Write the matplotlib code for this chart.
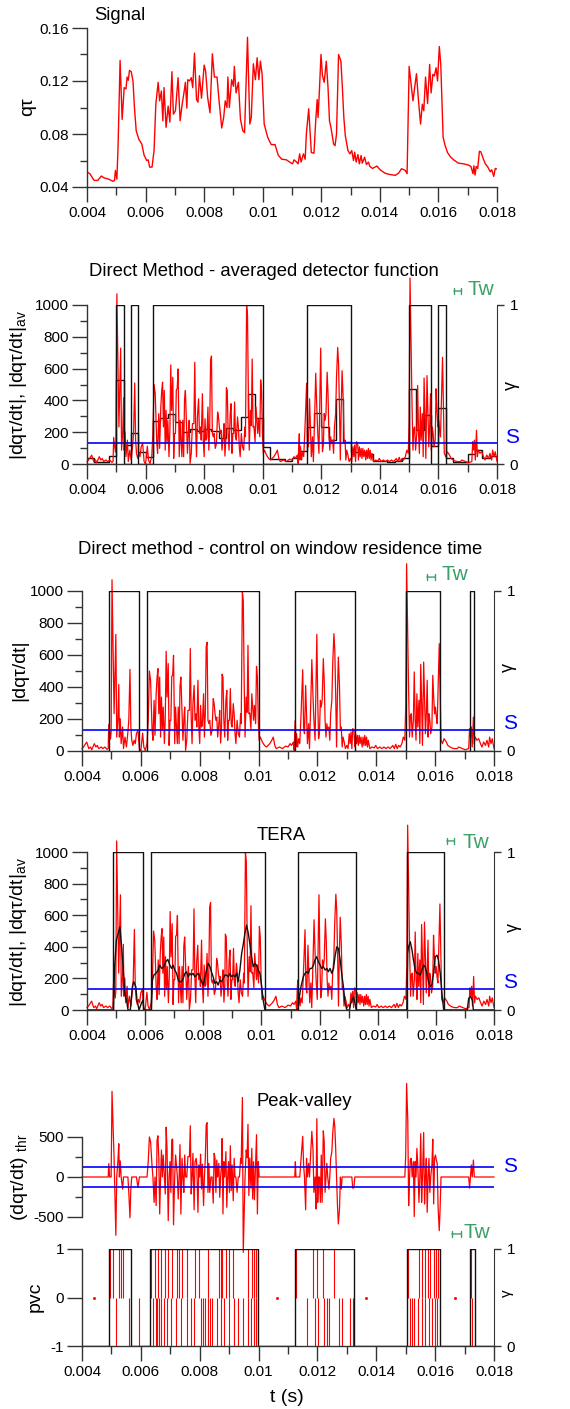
import numpy as np
import matplotlib.pyplot as plt
from matplotlib.ticker import MultipleLocator, FixedLocator

plt.rcParams['font.family'] = ['Liberation Sans', 'DejaVu Sans']

# ---------------- data ----------------
sig_t = [0.00400, 0.00410, 0.00424, 0.00437, 0.00449, 0.00457, 0.00473, 0.00489, 0.00494, 0.00497,
         0.00502, 0.00506, 0.00513, 0.00520, 0.00527, 0.00533, 0.00537, 0.00541, 0.00545, 0.00551,
         0.00557, 0.00562, 0.00568, 0.00577, 0.00587, 0.00595, 0.00604, 0.00609, 0.00614, 0.00622,
         0.00629, 0.00635, 0.00643, 0.00648, 0.00654, 0.00659, 0.00663, 0.00670, 0.00677, 0.00683,
         0.00690, 0.00695, 0.00702, 0.00711, 0.00718, 0.00725, 0.00731, 0.00736, 0.00741, 0.00744,
         0.00750, 0.00756, 0.00761, 0.00767, 0.00774, 0.00779, 0.00784, 0.00791, 0.00800, 0.00805,
         0.00812, 0.00820, 0.00828, 0.00835, 0.00844, 0.00851, 0.00860, 0.00867, 0.00872, 0.00878,
         0.00881, 0.00886, 0.00894, 0.00900, 0.00903, 0.00909, 0.00917, 0.00924, 0.00932, 0.00938,
         0.00948, 0.00956, 0.00961, 0.00968, 0.00975, 0.00981, 0.00987, 0.00992, 0.00998, 0.01005,
         0.01017, 0.01029, 0.01042, 0.01053, 0.01065, 0.01081, 0.01092, 0.01102, 0.01107, 0.01116,
         0.01121, 0.01126, 0.01131, 0.01139, 0.01145, 0.01149, 0.01157, 0.01162, 0.01166, 0.01175,
         0.01181, 0.01186, 0.01189, 0.01193, 0.01199, 0.01204, 0.01210, 0.01217, 0.01223, 0.01228,
         0.01233, 0.01242, 0.01247, 0.01252, 0.01259, 0.01267, 0.01272, 0.01277, 0.01282, 0.01291,
         0.01298, 0.01304, 0.01310, 0.01314, 0.01319, 0.01325, 0.01330, 0.01336, 0.01340, 0.01348,
         0.01354, 0.01361, 0.01366, 0.01375, 0.01390, 0.01401, 0.01417, 0.01432, 0.01453, 0.01464,
         0.01474, 0.01487, 0.01493, 0.01500, 0.01513, 0.01525, 0.01532, 0.01539, 0.01545, 0.01550,
         0.01556, 0.01563, 0.01570, 0.01575, 0.01581, 0.01586, 0.01592, 0.01597, 0.01603, 0.01608,
         0.01616, 0.01623, 0.01631, 0.01642, 0.01652, 0.01668, 0.01686, 0.01703, 0.01711, 0.01718,
         0.01721, 0.01725, 0.01729, 0.01734, 0.01740, 0.01745, 0.01752, 0.01760, 0.01768, 0.01777,
         0.01782, 0.01789, 0.01794, 0.01800]
sig_q = [0.0513, 0.0500, 0.0450, 0.0450, 0.0483, 0.0470, 0.0460, 0.0443, 0.0450, 0.0525,
         0.0460, 0.0700, 0.1355, 0.0910, 0.1150, 0.1140, 0.1230, 0.1205, 0.1280, 0.1270,
         0.1200, 0.1000, 0.0825, 0.0760, 0.0725, 0.0640, 0.0600, 0.0605, 0.0550, 0.0550,
         0.0675, 0.1025, 0.1190, 0.1050, 0.1125, 0.0900, 0.1150, 0.0850, 0.1010, 0.0890,
         0.1270, 0.0950, 0.0975, 0.1225, 0.0900, 0.1025, 0.1110, 0.1190, 0.0995, 0.1210,
         0.1200, 0.1225, 0.1150, 0.1410, 0.1060, 0.1040, 0.1240, 0.1070, 0.1320, 0.1275,
         0.1075, 0.0960, 0.1405, 0.1230, 0.1230, 0.1050, 0.0845, 0.0930, 0.1050, 0.1000,
         0.1230, 0.1000, 0.1210, 0.1160, 0.1310, 0.1110, 0.1190, 0.0910, 0.0825, 0.0810,
         0.1530, 0.0875, 0.0925, 0.1330, 0.1210, 0.1375, 0.1210, 0.1350, 0.1250, 0.0875,
         0.0775, 0.0720, 0.0720, 0.0640, 0.0610, 0.0605, 0.0588, 0.0575, 0.0605, 0.0588,
         0.0575, 0.0650, 0.0588, 0.0650, 0.0610, 0.0800, 0.0990, 0.0800, 0.0660, 0.0655,
         0.0900, 0.1060, 0.0925, 0.1100, 0.1400, 0.1240, 0.1190, 0.1350, 0.1150, 0.0900,
         0.0850, 0.0725, 0.0712, 0.0800, 0.1400, 0.1350, 0.1150, 0.0925, 0.0788, 0.0675,
         0.0650, 0.0675, 0.0600, 0.0663, 0.0588, 0.0645, 0.0575, 0.0638, 0.0580, 0.0625,
         0.0570, 0.0588, 0.0555, 0.0540, 0.0558, 0.0530, 0.0505, 0.0495, 0.0488, 0.0505,
         0.0538, 0.0525, 0.0500, 0.1310, 0.1050, 0.1255, 0.1050, 0.0875, 0.1025, 0.0975,
         0.1230, 0.1030, 0.1325, 0.1110, 0.1250, 0.1238, 0.1300, 0.1200, 0.1460, 0.1325,
         0.0775, 0.0712, 0.0660, 0.0625, 0.0605, 0.0580, 0.0575, 0.0565, 0.0555, 0.0500,
         0.0560, 0.0490, 0.0555, 0.0540, 0.0670, 0.0665, 0.0620, 0.0575, 0.0553, 0.0515,
         0.0530, 0.0480, 0.0540, 0.0535]

# signed derivative dq/dt
dq_t = [0.00400, 0.00405, 0.00416, 0.00423, 0.00429, 0.00433, 0.00442, 0.00447, 0.00452, 0.00457,
        0.00465, 0.00471, 0.00478, 0.00485, 0.00489, 0.00491, 0.00494, 0.00497, 0.00499, 0.00502,
        0.00509, 0.00515, 0.00518, 0.00522, 0.00525, 0.00527, 0.00530, 0.00533, 0.00538, 0.00541,
        0.00546, 0.00551, 0.00556, 0.00559, 0.00563, 0.00566, 0.00569, 0.00573, 0.00577, 0.00581,
        0.00585, 0.00590, 0.00595, 0.00600, 0.00606, 0.00610, 0.00615, 0.00621, 0.00625, 0.00629,
        0.00633, 0.00638, 0.00641, 0.00645, 0.00648, 0.00652, 0.00655, 0.00658, 0.00661, 0.00664,
        0.00667, 0.00670, 0.00673, 0.00676, 0.00680, 0.00683, 0.00686, 0.00689, 0.00693, 0.00696,
        0.00699, 0.00702, 0.00705, 0.00708, 0.00711, 0.00715, 0.00718, 0.00721, 0.00724, 0.00727,
        0.00730, 0.00733, 0.00736, 0.00740, 0.00743, 0.00746, 0.00749, 0.00752, 0.00756, 0.00760,
        0.00765, 0.00768, 0.00771, 0.00774, 0.00777, 0.00781, 0.00784, 0.00788, 0.00790, 0.00794,
        0.00797, 0.00800, 0.00803, 0.00806, 0.00809, 0.00813, 0.00816, 0.00819, 0.00822, 0.00825,
        0.00828, 0.00831, 0.00834, 0.00838, 0.00842, 0.00846, 0.00849, 0.00852, 0.00855, 0.00858,
        0.00861, 0.00865, 0.00868, 0.00871, 0.00874, 0.00876, 0.00879, 0.00882, 0.00885, 0.00889,
        0.00892, 0.00895, 0.00898, 0.00901, 0.00904, 0.00907, 0.00910, 0.00914, 0.00917, 0.00920,
        0.00923, 0.00927, 0.00931, 0.00935, 0.00939, 0.00941, 0.00945, 0.00948, 0.00951, 0.00954,
        0.00958, 0.00961, 0.00964, 0.00967, 0.00970, 0.00974, 0.00977, 0.00980, 0.00983, 0.00986,
        0.00990, 0.00993, 0.00996, 0.00999, 0.01002, 0.01006, 0.01013, 0.01020, 0.01027, 0.01038,
        0.01045, 0.01050, 0.01055, 0.01060, 0.01071, 0.01081, 0.01092, 0.01100, 0.01107, 0.01112,
        0.01118, 0.01121, 0.01123, 0.01125, 0.01127, 0.01129, 0.01133, 0.01136, 0.01140, 0.01144,
        0.01150, 0.01153, 0.01156, 0.01160, 0.01163, 0.01166, 0.01170, 0.01173, 0.01177, 0.01181,
        0.01185, 0.01188, 0.01192, 0.01195, 0.01198, 0.01201, 0.01204, 0.01207, 0.01210, 0.01213,
        0.01216, 0.01220, 0.01223, 0.01226, 0.01229, 0.01232, 0.01235, 0.01239, 0.01242, 0.01245,
        0.01249, 0.01252, 0.01256, 0.01259, 0.01262, 0.01265, 0.01268, 0.01271, 0.01275, 0.01278,
        0.01281, 0.01284, 0.01287, 0.01291, 0.01295, 0.01300, 0.01304, 0.01308, 0.01311, 0.01314,
        0.01317, 0.01320, 0.01324, 0.01327, 0.01330, 0.01333, 0.01336, 0.01339, 0.01342, 0.01345,
        0.01348, 0.01352, 0.01355, 0.01358, 0.01361, 0.01364, 0.01367, 0.01370, 0.01373, 0.01378,
        0.01385, 0.01393, 0.01398, 0.01404, 0.01412, 0.01419, 0.01426, 0.01433, 0.01440, 0.01447,
        0.01456, 0.01461, 0.01466, 0.01471, 0.01476, 0.01481, 0.01487, 0.01492, 0.01497, 0.01500,
        0.01503, 0.01507, 0.01510, 0.01513, 0.01516, 0.01519, 0.01522, 0.01526, 0.01529, 0.01532,
        0.01535, 0.01538, 0.01541, 0.01545, 0.01548, 0.01551, 0.01554, 0.01557, 0.01561, 0.01564,
        0.01567, 0.01570, 0.01573, 0.01576, 0.01579, 0.01582, 0.01585, 0.01589, 0.01592, 0.01595,
        0.01598, 0.01601, 0.01604, 0.01607, 0.01610, 0.01614, 0.01617, 0.01620, 0.01625, 0.01630,
        0.01638, 0.01643, 0.01654, 0.01664, 0.01675, 0.01680, 0.01702, 0.01714, 0.01717, 0.01720,
        0.01723, 0.01726, 0.01730, 0.01733, 0.01736, 0.01742, 0.01748, 0.01754, 0.01759, 0.01765,
        0.01771, 0.01776, 0.01782, 0.01785, 0.01790, 0.01794, 0.01800]
dq_v = [15, 25, 56, 15, 25, 8, 46, 25, 35, 15,
        25, 15, 25, 10, 15, 167, 119, 75, 119, 1070,
        233, -729, -87, 200, 416, 87, 202, 46, -150, 15,
        87, 25, 119, -192, -510, -150, 67, 35, 67, 46,
        108, -130, 15, 0, 112, 25, 4, 46, 192, 500,
        442, 140, 67, -317, 98, -358, 458, 515, 233, -462,
        87, 337, -129, 275, -46, -213, 623, 337, -546, 35,
        192, -192, 467, 473, -598, 46, 275, 150, 46, -275,
        46, 404, -462, 233, 67, -192, 275, 4, -67, 254,
        254, 640, -212, 46, 296, -410, 192, 233, 150, -442,
        150, 46, 285, -150, 160, -358, 87, 233, 650, 679,
        -192, 171, -192, 98, 129, -327, 296, 233, -192, 212,
        87, 171, -254, 50, 150, 480, -462, 192, 87, 317,
        -379, 67, 192, -192, 390, -171, 150, -296, 233, 108,
        46, -192, 108, 87, 233, 171, 994, -942, -442, 87,
        337, 242, 660, -233, 237, -140, 358, -275, 192, -285,
        171, 529, -462, 192, 67, 87, 56, 35, 25, 46,
        67, 87, 35, 15, 25, 15, 31, 25, 46, 35,
        56, 4, 119, 190, 25, 108, 25, 77, 46, 212,
        508, 150, 108, -410, 233, 46, 171, 15, 275, 571,
        337, -192, 67, -400, 729, -317, 77, 119, -317, 275,
        -317, 577, 442, -192, 87, 171, -129, -150, 67, 233,
        317, 546, 733, 629, 358, 25, -348, -587, -400, 129,
        -150, 25, 87, 56, 15, 35, 15, 108, 46, 119,
        15, -140, -133, 25, 108, 46, 98, 35, 98, 46,
        87, 25, 87, 35, 98, 35, 87, 25, 67, 15,
        25, 19, 35, 15, 25, 15, 25, 15, 25, 15,
        35, 15, 42, 15, 35, 25, 46, 87, 67, 275,
        1170, 710, -358, 87, 223, 233, 87, 192, -494, 192,
        67, 358, 150, -317, 46, 541, -317, 35, 556, -338,
        108, 233, -442, 87, 233, -192, 108, 150, 473, -337,
        233, 275, 212, 171, -379, -671, -379, 67, 46, 77,
        56, 35, 21, 15, 15, 25, 8, 15, -140, 88,
        150, 25, 212, 46, 88, 67, 77, 46, 25, 56,
        35, 67, 25, 87, 46, 77, 15]

S = 130          # threshold
Tw = 0.00025     # window width

# averaged detector function, one value per window of width Tw from t=0.004
av_vals = [35, 12, 12, 50, 530, 120, 195, 75, 45, 270, 290, 315, 265, 200, 220, 205, 220, 210,
           165, 225, 215, 295, 440, 290, 110, 30, 30, 20, 35, 80, 235, 320, 235, 150, 410, 140,
           75, 75, 60, 20, 20, 10, 20, 40, 470, 215, 310, 115, 350, 40, 15, 15, 65, 85, 40, 50]

# TERA averaged curve
tera_t = [0.00400, 0.00491, 0.00495, 0.00501, 0.00507, 0.00513, 0.00518, 0.00524, 0.00530, 0.00536,
          0.00541, 0.00549, 0.00556, 0.00561, 0.00568, 0.00572, 0.00579, 0.00587, 0.00593, 0.00595,
          0.00621, 0.00625, 0.00630, 0.00637, 0.00645, 0.00650, 0.00657, 0.00664, 0.00671, 0.00678,
          0.00685, 0.00691, 0.00696, 0.00702, 0.00708, 0.00714, 0.00719, 0.00725, 0.00731, 0.00737,
          0.00742, 0.00748, 0.00754, 0.00759, 0.00765, 0.00771, 0.00777, 0.00782, 0.00788, 0.00794,
          0.00800, 0.00805, 0.00811, 0.00817, 0.00823, 0.00828, 0.00834, 0.00840, 0.00846, 0.00851,
          0.00857, 0.00863, 0.00869, 0.00874, 0.00880, 0.00886, 0.00892, 0.00897, 0.00903, 0.00909,
          0.00915, 0.00920, 0.00926, 0.00932, 0.00938, 0.00943, 0.00949, 0.00955, 0.00960, 0.00966,
          0.00972, 0.00978, 0.00983, 0.00989, 0.00995, 0.01001, 0.01006, 0.01012, 0.01125, 0.01129,
          0.01136, 0.01144, 0.01150, 0.01156, 0.01161, 0.01167, 0.01173, 0.01179, 0.01184, 0.01190,
          0.01196, 0.01202, 0.01207, 0.01213, 0.01219, 0.01225, 0.01230, 0.01236, 0.01242, 0.01248,
          0.01253, 0.01259, 0.01265, 0.01271, 0.01276, 0.01282, 0.01288, 0.01294, 0.01303, 0.01307,
          0.01312, 0.01317, 0.01322, 0.01326, 0.01500, 0.01503, 0.01506, 0.01512, 0.01518, 0.01523,
          0.01529, 0.01535, 0.01540, 0.01546, 0.01552, 0.01558, 0.01563, 0.01569, 0.01575, 0.01581,
          0.01586, 0.01592, 0.01598, 0.01604, 0.01609, 0.01615, 0.01621, 0.01627, 0.01708, 0.01713,
          0.01720, 0.01726, 0.01729, 0.01800]
tera_v = [0, 0, 274, 442, 484, 526, 421, 274, 105, 63,
          0, 0, 147, 179, 147, 63, 0, 42, 63, 0,
          0, 189, 221, 232, 253, 284, 263, 274, 305, 320,
          284, 263, 284, 253, 232, 189, 179, 179, 200, 232,
          242, 210, 232, 221, 232, 210, 221, 232, 210, 179,
          158, 200, 253, 295, 274, 242, 210, 168, 179, 158,
          189, 179, 200, 221, 221, 210, 232, 210, 221, 210,
          232, 179, 253, 358, 421, 484, 537, 484, 421, 337,
          274, 295, 284, 253, 232, 147, 63, 0, 0, 63,
          147, 210, 232, 242, 232, 263, 263, 284, 316, 337,
          305, 284, 263, 274, 253, 263, 242, 263, 232, 263,
          337, 400, 389, 316, 232, 147, 42, 0, 0, 42,
          63, 84, 42, 0, 0, 358, 400, 432, 379, 316,
          253, 232, 232, 221, 253, 284, 274, 232, 179, 147,
          158, 232, 337, 347, 316, 232, 105, 0, 0, 74,
          84, 60, 0, 0]

# detector gate (gamma = 1) intervals in each panel
gate_avg = [(0.00500, 0.00525), (0.00550, 0.00575), (0.00625, 0.01000), (0.01150, 0.01300),
            (0.01500, 0.01575), (0.01600, 0.01625)]
gate_res = [(0.00492, 0.00592), (0.00621, 0.01002), (0.01125, 0.01327), (0.01502, 0.01617),
            (0.01717, 0.01733)]
gate_tera = [(0.00491, 0.00593), (0.00621, 0.01012), (0.01125, 0.01326), (0.01500, 0.01627)]
gate_pv = [(0.00492, 0.00565), (0.00630, 0.00997), (0.01125, 0.01325), (0.01504, 0.01615),
           (0.01717, 0.01735)]

# peak-valley counter events
pvc_peaks = [0.00496, 0.00504, 0.00525, 0.00531, 0.00538,
             0.00635, 0.00648, 0.00658, 0.00669, 0.00681, 0.00692, 0.00707, 0.00723, 0.00728,
             0.00739, 0.00756, 0.00783, 0.00796, 0.00827, 0.00865, 0.00871, 0.00877, 0.00888,
             0.00898, 0.00913, 0.00965, 0.00977, 0.00983, 0.00992,
             0.01126, 0.01186, 0.01200, 0.01218, 0.01256,
             0.01509, 0.01546, 0.01554, 0.01565, 0.01575, 0.01584, 0.01595, 0.01603, 0.01610,
             0.01722]
pvc_valleys = [0.00515, 0.00561, 0.00593,
               0.00642, 0.00650, 0.00655, 0.00663, 0.00669, 0.00678, 0.00688, 0.00702, 0.00718,
               0.00735, 0.00756, 0.00770, 0.00782, 0.00806, 0.00811, 0.00819, 0.00827, 0.00835,
               0.00843, 0.00858, 0.00874, 0.00884, 0.00900, 0.00916, 0.00931, 0.00947, 0.00963,
               0.00975, 0.00983, 0.00992,
               0.01164, 0.01192, 0.01202, 0.01223, 0.01231, 0.01239, 0.01273, 0.01285, 0.01311,
               0.01320,
               0.01513, 0.01520, 0.01527, 0.01541, 0.01554, 0.01567, 0.01580, 0.01590, 0.01598,
               0.01608, 0.01726]
pvc_zero = [0.00440, 0.01061, 0.01364, 0.01668]

xticks = [0.004, 0.006, 0.008, 0.010, 0.012, 0.014, 0.016, 0.018]
xticklabels = ['0.004', '0.006', '0.008', '0.01', '0.012', '0.014', '0.016', '0.018']

# ---------------- figure ----------------
W, H = 570, 1409
fig = plt.figure(figsize=(W / 100, H / 100), dpi=100)

RED = '#ff0000'
GREEN = '#3c9f68'
SPC = '#333333'


def add_ax(left, right, top, bottom):
    return fig.add_axes([left / W, 1 - bottom / H, (right - left) / W, (bottom - top) / H])


def style(ax, xaxis=True):
    ax.set_facecolor('none')
    ax.spines['top'].set_visible(False)
    ax.spines['right'].set_visible(False)
    for s in ['left', 'bottom']:
        ax.spines[s].set_color(SPC)
        ax.spines[s].set_linewidth(1.0)
    ax.set_xlim(0.004, 0.018)
    if xaxis:
        ax.xaxis.set_major_locator(FixedLocator(xticks))
        ax.set_xticklabels(xticklabels)
        ax.xaxis.set_minor_locator(MultipleLocator(0.001))
        ax.tick_params(axis='x', which='major', length=11, width=1, color=SPC, pad=3, labelsize=11)
        ax.tick_params(axis='x', which='minor', length=5.5, width=1, color=SPC)
    else:
        ax.spines['bottom'].set_visible(False)
        ax.set_xticks([])
    ax.tick_params(axis='y', which='major', length=11, width=1, color=SPC, pad=2, labelsize=11)
    ax.tick_params(axis='y', which='minor', length=5, width=1, color=SPC)


def gate_xy(intervals):
    x, y = [0.004], [0]
    for a, b in intervals:
        x += [a, a, b, b]
        y += [0, 1, 1, 0]
    x.append(0.018)
    y.append(0)
    return x, y


def gamma_axis(ax, intervals):
    tw = ax.twinx()
    tw.set_facecolor('none')
    for s in ['top', 'left', 'bottom']:
        tw.spines[s].set_visible(False)
    tw.spines['right'].set_color(SPC)
    tw.set_xlim(0.004, 0.018)
    tw.set_ylim(0, 1)
    tw.set_yticks([0, 1])
    tw.set_yticklabels(['0', '1'])
    tw.tick_params(axis='y', length=5, width=1, color=SPC, pad=4, labelsize=11)
    gx, gy = gate_xy(intervals)
    tw.plot(gx, gy, color='#111111', lw=1)
    return tw


def px(x, y):
    return x / W, 1 - y / H


def tw_marker(ax, t0, t1, y, tt, ty, size=15):
    ax.annotate('', xy=(t1, y), xytext=(t0, y), annotation_clip=False,
                arrowprops=dict(arrowstyle='|-|, widthA=0.2, widthB=0.2', color=GREEN, lw=1,
                                shrinkA=0, shrinkB=0))
    ax.text(tt, ty, 'Tw', color=GREEN, fontsize=size, va='center', ha='left', clip_on=False)


dq_t = np.array(dq_t)
dq_v = np.array(dq_v, dtype=float)
dq_abs = np.abs(dq_v)
dq_thr = np.where(dq_abs >= S, dq_v, 0)

# ---- panel 1: signal
ax1 = add_ax(87, 497, 28, 187)
style(ax1)
ax1.plot(sig_t, sig_q, color=RED, lw=1)
ax1.set_ylim(0.04, 0.16)
ax1.set_yticks([0.04, 0.08, 0.12, 0.16])
ax1.set_yticklabels(['0.04', '0.08', '0.12', '0.16'])
ax1.yaxis.set_minor_locator(FixedLocator([0.06, 0.10, 0.14]))
fig.text(*px(94, 15), 'Signal', fontsize=13.3, ha='left', va='center')
fig.text(*px(28, 107), 'qτ', fontsize=14, rotation=90, ha='center', va='center')

# ---- panel 2: direct method, averaged detector function
ax2 = add_ax(87, 497, 305, 464)
style(ax2)
ax2.set_ylim(0, 1000)
ax2.yaxis.set_major_locator(MultipleLocator(200))
ax2.yaxis.set_minor_locator(MultipleLocator(100))
ax2.plot(dq_t, dq_abs, color=RED, lw=0.9, clip_on=False)
edges = 0.004 + Tw * np.arange(len(av_vals) + 1)
ax2.stairs(av_vals, edges, baseline=None, color='#111111', lw=1)
ax2.axhline(S, color='#0000ff', lw=1.2)
gamma_axis(ax2, gate_avg)
ax2.text(0.01827, 164, 'S', color='#0000ff', fontsize=15, va='center', ha='left', clip_on=False)
tw_marker(ax2, 0.01653, 0.01677, 1088, 0.01698, 1100)
fig.text(*px(264, 272), 'Direct Method - averaged detector function', fontsize=13.3,
         ha='center', va='center')
fig.text(*px(19, 385), '|dqτ/dt|, |dqτ/dt|$_{\\mathregular{av}}$', fontsize=14, rotation=90,
         ha='center', va='center')
fig.text(*px(511, 385), 'γ', fontsize=13, rotation=90, ha='center', va='center')

# ---- panel 3: direct method, control on window residence time
ax3 = add_ax(82, 494, 591, 751)
style(ax3)
ax3.set_ylim(0, 1000)
ax3.yaxis.set_major_locator(MultipleLocator(200))
ax3.yaxis.set_minor_locator(MultipleLocator(100))
ax3.plot(dq_t, dq_abs, color=RED, lw=0.9, clip_on=False)
ax3.axhline(S, color='#0000ff', lw=1.2)
gamma_axis(ax3, gate_res)
ax3.text(0.01831, 169, 'S', color='#0000ff', fontsize=15, va='center', ha='left', clip_on=False)
tw_marker(ax3, 0.01572, 0.01600, 1087, 0.01623, 1100)
fig.text(*px(280, 549), 'Direct method - control on window residence time', fontsize=13.3,
         ha='center', va='center')
fig.text(*px(20, 670), '|dqτ/dt|', fontsize=14, rotation=90, ha='center', va='center')
fig.text(*px(508, 667), 'γ', fontsize=13, rotation=90, ha='center', va='center')

# ---- panel 4: TERA
ax4 = add_ax(87, 494, 852, 1010)
style(ax4)
ax4.set_ylim(0, 1000)
ax4.yaxis.set_major_locator(MultipleLocator(200))
ax4.yaxis.set_minor_locator(MultipleLocator(100))
ax4.plot(dq_t, dq_abs, color=RED, lw=0.9, clip_on=False)
ax4.plot(tera_t, tera_v, color='#111111', lw=1)
ax4.axhline(S, color='#0000ff', lw=1.2)
gamma_axis(ax4, gate_tera)
ax4.text(0.01831, 171, 'S', color='#0000ff', fontsize=15, va='center', ha='left', clip_on=False)
tw_marker(ax4, 0.01638, 0.01662, 1070, 0.01690, 1063)
fig.text(*px(281, 836), 'TERA', fontsize=13.3, ha='center', va='center')
fig.text(*px(19, 932), '|dqτ/dt|, |dqτ/dt|$_{\\mathregular{av}}$', fontsize=14, rotation=90,
         ha='center', va='center')
fig.text(*px(513, 927), 'γ', fontsize=13, rotation=90, ha='center', va='center')

# ---- panel 5: peak-valley, thresholded derivative
ax5 = add_ax(82, 494, 1085, 1257)
style(ax5, xaxis=False)
ax5.set_ylim(-1000, 1150)
ax5.spines['left'].set_bounds(-500, 500)
ax5.set_yticks([-500, 0, 500])
ax5.set_yticklabels(['-500', '0', '500'])
ax5.yaxis.set_minor_locator(FixedLocator([-250, 250]))
ax5.plot(dq_t, dq_thr, color=RED, lw=0.9, clip_on=False)
ax5.axhline(S, color='#0000ff', lw=1.2)
ax5.axhline(-S, color='#0000ff', lw=1.2)
ax5.text(0.01831, 125, 'S', color='#0000ff', fontsize=15, va='center', ha='left', clip_on=False)
fig.text(*px(304, 1102), 'Peak-valley', fontsize=13.3, ha='center', va='center')
fig.text(*px(20, 1177), '(dqτ/dt) $_{\\mathregular{thr}}$', fontsize=14, rotation=90,
         ha='center', va='center')

# ---- panel 6: peak-valley counter
ax6 = add_ax(82, 494, 1249, 1346)
style(ax6)
ax6.set_ylim(-1, 1)
ax6.set_yticks([-1, 0, 1])
ax6.set_yticklabels(['-1', '0', '1'])
ax6.vlines(pvc_peaks, 0, 1, color=RED, lw=0.8)
ax6.vlines(pvc_valleys, -1, 0, color=RED, lw=0.8)
ax6.plot(pvc_zero, [0] * len(pvc_zero), 's', ms=1, color=RED)
gamma_axis(ax6, gate_pv)
tw_marker(ax6, 0.01657, 0.01688, 1.31, 0.01698, 1.35)
fig.text(*px(35, 1297), 'pvc', fontsize=14, rotation=90, ha='center', va='center')
fig.text(*px(507, 1293), 'γ', fontsize=11, rotation=90, ha='center', va='center')
fig.text(*px(287, 1398), 't (s)', fontsize=14, ha='center', va='center')

fig.savefig('out.png', dpi=100)
